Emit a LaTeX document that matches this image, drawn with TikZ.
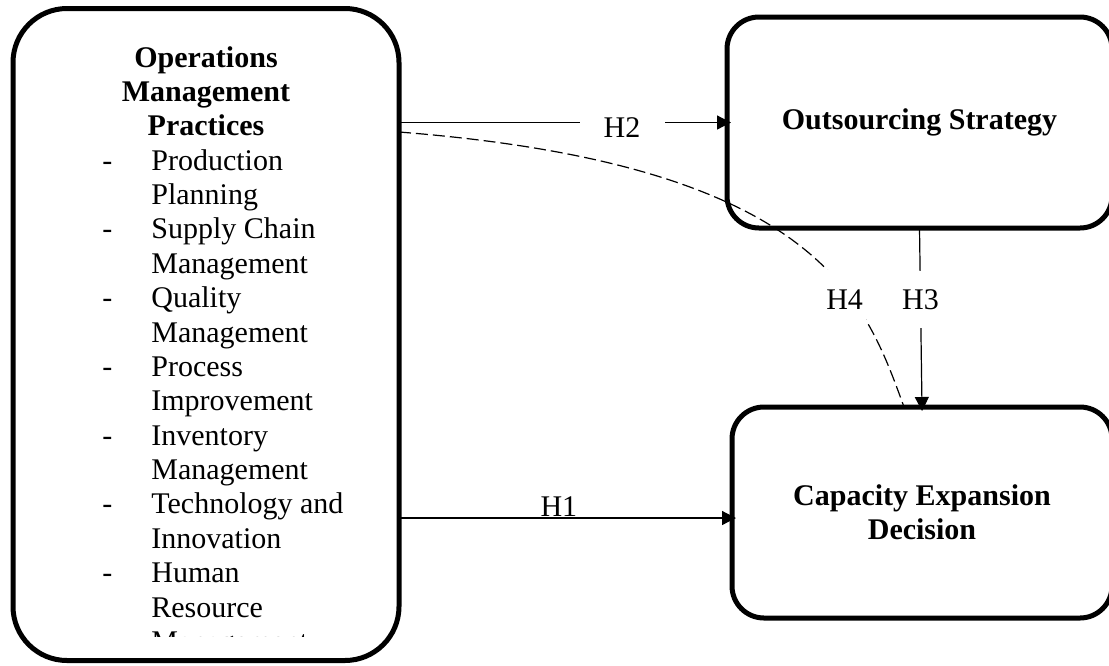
\documentclass[tikz,border=0pt]{standalone}
\usepackage{fontspec}
\setmainfont{Liberation Serif}
\usetikzlibrary{arrows.meta}

\tikzset{
  bigbox/.style={draw, line width=2.5pt, rounded corners=16pt, outer sep=0pt,
    inner sep=0pt, align=center, font=\bfseries\fontsize{15}{17.19}\selectfont},
  titletext/.style={anchor=base, inner sep=0pt, font=\bfseries\fontsize{15}{17.19}\selectfont},
  itemtext/.style={anchor=base west, inner sep=0pt, font=\fontsize{15}{17.19}\selectfont},
  hlabel/.style={fill=white, inner sep=1pt, font=\fontsize{15}{17.19}\selectfont},
  link/.style={line width=0.6pt, -{Triangle[length=7pt,width=7pt]}, shorten >=-2pt},
}

\begin{document}
\begin{tikzpicture}[x=0.5pt, y=-0.5pt]
  \useasboundingbox (0,0) rectangle (1109,665);

  % Cadres
  \node[bigbox, rounded corners=27pt, minimum width=193pt, minimum height=326pt] (ops) at (206,334.5) {};
  \node[bigbox, minimum width=192.5pt, minimum height=105.5pt] (out) at (919.5,122.5) {Outsourcing Strategy};
  \node[bigbox, minimum width=190pt, minimum height=105.5pt] (cap) at (922,512.5) {Capacity Expansion\\Decision};

  % Titre et liste
  \foreach \k/\txt in {0/Operations,1/Management,2/Practices}
    \node[titletext] (title\k) at (206,{67+34.375*\k}) {\txt};
  \foreach \k/\txt in {3/Production,4/Planning,5/Supply Chain,6/Management,7/Quality,8/Management,
      9/Process,10/Improvement,11/Inventory,12/Management,13/Technology and,14/Innovation,15/Human,16/Resource}
    \node[itemtext] (item\k) at (151,{67+34.375*\k}) {\txt};
  \foreach \k in {3,5,...,15}
    \node[itemtext] (dash\k) at (102,{67+34.375*\k}) {-};
  \begin{scope}
    \clip (13,0) rectangle (399,636);
    \node[itemtext] (item17) at (151,{67+34.375*17}) {Management};
  \end{scope}

  % H2
  \draw[link] (ops.east |- out.west) -- node[hlabel, pos=0.68, yshift=-2.5pt, minimum width=42.5pt] {H2} (out.west);

  % H1
  \coordinate (h1end) at ([yshift=-2.75pt]cap.west);
  \draw[link] (ops.east |- h1end) -- node[hlabel, pos=0.48, above, fill=none, inner sep=0.5pt] {H1} (h1end);

  % H3
  \draw[link] (out.south) -- node[hlabel, pos=0.4, minimum height=28.5pt] {H3} (cap.north);

  % H4
  \coordinate (h4mark) at ([yshift=-4.75pt]out.west);
  \draw[line width=0.6pt, dash pattern=on 6pt off 2.5pt] (ops.east |- h4mark)
    .. controls (820,165) and (865,300) ..
    node[hlabel, pos=0.68, xshift=-4pt, minimum width=21.5pt, minimum height=30pt] {H4} ([xshift=-9pt]cap.north);
\end{tikzpicture}
\end{document}
